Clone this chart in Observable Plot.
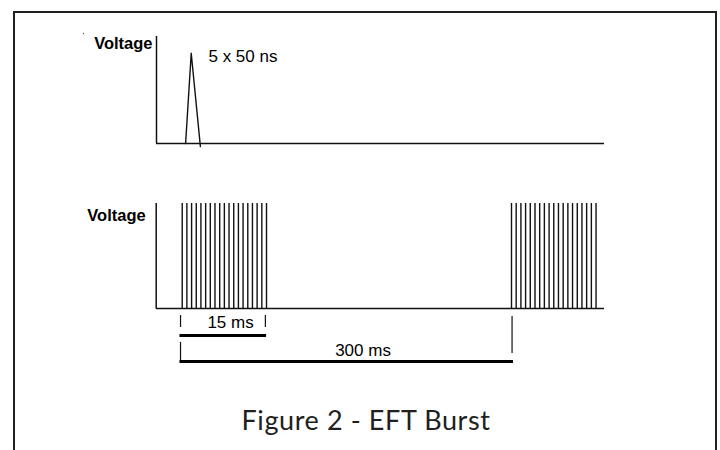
<!DOCTYPE html>
<html>
<head>
<meta charset="utf-8">
<script src="https://cdn.jsdelivr.net/npm/d3@7"></script>
<script src="https://cdn.jsdelivr.net/npm/@observablehq/plot@0.6"></script>
<style>
  html, body { margin: 0; padding: 0; background: #fff; }
  #wrap { position: relative; width: 720px; height: 450px; overflow: hidden; background: #fff; }
  #frame { position: absolute; left: 13px; top: 11px; width: 704px; height: 460px; box-sizing: border-box;
           border: 2.3px solid #231f20; border-bottom: none; }
  .layer { position: absolute; left: 0; top: 0; }
  #caption { position: absolute; left: 166px; top: 406px; width: 400px; text-align: center;
             font-family: Lato, "Open Sans", sans-serif; font-weight: 400; font-size: 27px; line-height: 27px;
             letter-spacing: 0.6px; color: #231f20; }
</style>
</head>
<body>
<div id="wrap">
  <div id="frame"></div>
  <div id="top" class="layer"></div>
  <div id="bottom" class="layer"></div>
  <div id="caption">Figure 2 - EFT Burst</div>
</div>
<script>
// ---------- data (schematic units) ----------
// Top panel: single fast transient, x in schematic time units, y in normalized volts
const spikeTime    = [6.5, 7.75, 9.8];
const spikeVolt    = [0, 1, -0.035];
const topAxisStart = 0;
const topAxisEnd   = 100;
const topAxisTop   = 1.185;
const topLabel     = "Voltage";
const spikeLabel   = "5 x 50 ns";
const strayDot     = [{t: -16.3, v: 1.218}];

// Bottom panel: bursts, x in ms (broken schematic time axis)
const burstStarts  = [0, 300];                 // ms
const pulseOffsets = [0, 0.83, 1.67, 2.5, 3.33, 4.17, 5, 5.83, 6.67, 7.5,
                      8.33, 9.17, 10, 10.83, 11.67, 12.5, 13.33, 14.17, 15]; // ms within burst
const burstLength  = 15;                       // ms
const burstPeriod  = 300;                      // ms
const botAxisStart = -4.63;
const botAxisEnd   = 316.5;
const bottomLabel  = "Voltage";
const durationLabels = ["15 ms", "300 ms"];

// ---------- build tables ----------
const spike = spikeTime.map((t, i) => ({t, v: spikeVolt[i]}));
const pulses = burstStarts.flatMap(s => pulseOffsets.map(o => ({t: s + o})));

const ink = "#111";
const font = "Liberation Sans, Arial, sans-serif";

// ---------- top panel ----------
const topPlot = Plot.plot({
  width: 720, height: 450,
  marginTop: 0, marginRight: 0, marginBottom: 0, marginLeft: 0,
  style: {background: "transparent", overflow: "visible"},
  x: {type: "linear", domain: [topAxisStart, topAxisEnd], range: [156, 604], axis: null},
  y: {type: "linear", domain: [0, 1], range: [143, 52.7], axis: null},
  marks: [
    Plot.ruleY([0], {x1: topAxisStart, x2: topAxisEnd, stroke: ink, strokeWidth: 1.5}),
    Plot.ruleX([topAxisStart], {y1: 0, y2: topAxisTop, stroke: ink, strokeWidth: 1.5}),
    Plot.line(spike, {x: "t", y: "v", stroke: ink, strokeWidth: 1.4}),
    Plot.dot(strayDot, {x: "t", y: "v", r: 0.7, fill: "#555", stroke: null}),
    Plot.text([topLabel], {x: topAxisStart, y: 1.052, dx: -4, text: d => d, textAnchor: "end", lineAnchor: "bottom",
      fontFamily: font, fontWeight: "bold", fontSize: 16.5, fill: "#000"}),
    Plot.text([spikeLabel], {x: 11.6, y: 0.9, text: d => d, textAnchor: "start", lineAnchor: "bottom",
      fontFamily: font, fontSize: 17, fill: "#000"})
  ]
});
document.getElementById("top").append(topPlot);

// ---------- bottom panel ----------
const botPlot = Plot.plot({
  width: 720, height: 450,
  marginTop: 0, marginRight: 0, marginBottom: 0, marginLeft: 0,
  style: {background: "transparent", overflow: "visible"},
  x: {type: "linear", domain: [botAxisStart, burstLength, burstPeriod, botAxisEnd], range: [155.7, 266, 511, 604], axis: null},
  y: {type: "linear", domain: [0, 1], range: [308, 203], axis: null},
  marks: [
    Plot.ruleX(pulses, {x: "t", y1: 0, y2: 1, stroke: ink, strokeWidth: 1.4}),
    Plot.ruleY([0], {x1: botAxisStart, x2: botAxisEnd, stroke: ink, strokeWidth: 1.5}),
    Plot.ruleX([botAxisStart], {y1: 0, y2: 1, stroke: ink, strokeWidth: 1.5}),
    Plot.text([bottomLabel], {x: botAxisStart, y: 0.838, dx: -10.5, text: d => d, textAnchor: "end", lineAnchor: "bottom",
      fontFamily: font, fontWeight: "bold", fontSize: 16.5, fill: "#000"}),
    // 15 ms marker
    Plot.ruleX([-0.3, 14.8], {y1: -0.067, y2: -0.181, stroke: ink, strokeWidth: 1.2}),
    Plot.ruleY([-0.257], {x1: -0.4, x2: 15.1, stroke: "#000", strokeWidth: 3}),
    Plot.text([durationLabels[0]], {x: 8.6, y: -0.181, text: d => d, textAnchor: "middle", lineAnchor: "bottom",
      fontFamily: font, fontSize: 17, fill: "#000"}),
    // 300 ms marker
    Plot.ruleX([-0.3], {y1: -0.324, y2: -0.505, stroke: ink, strokeWidth: 1.2}),
    Plot.ruleX([burstPeriod + 0.1], {y1: -0.076, y2: -0.429, stroke: ink, strokeWidth: 1.2}),
    Plot.ruleY([-0.505], {x1: -0.4, x2: burstPeriod + 0.35, stroke: "#000", strokeWidth: 3}),
    Plot.text([durationLabels[1]], {x: 127.3, y: -0.448, text: d => d, textAnchor: "middle", lineAnchor: "bottom",
      fontFamily: font, fontSize: 17, fill: "#000"})
  ]
});
document.getElementById("bottom").append(botPlot);
</script>
</body>
</html>
